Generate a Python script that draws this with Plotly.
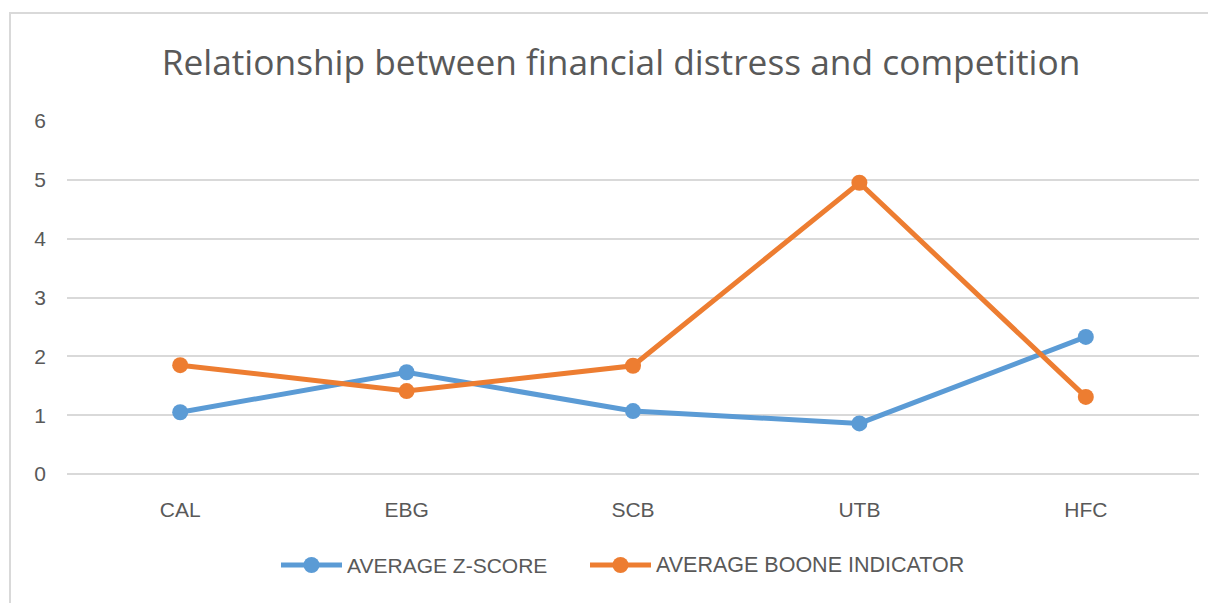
import plotly.graph_objects as go

categories = ["CAL", "EBG", "SCB", "UTB", "HFC"]
z_score = [1.05, 1.73, 1.07, 0.86, 2.33]
boone = [1.85, 1.41, 1.84, 4.95, 1.31]
y_ticks = [0, 1, 2, 3, 4, 5, 6]

title_text = "Relationship between financial distress and competition"
name_z = "AVERAGE Z-SCORE"
name_b = "AVERAGE BOONE INDICATOR"
color_z = "#5B9BD5"
color_b = "#ED7D31"

OFF = 8  # default body margin of the page
W, H = 1216 - OFF, 603 - OFF
L, T = 67 - OFF, 121 - OFF
pw, ph = 1132, 353
R = W - L - pw
B = H - T - ph


def px_x(page_x):
    return (page_x - OFF - L) / pw


def px_y(page_y):
    return (T + ph - (page_y - OFF)) / ph


fig = go.Figure()
for name, vals, col in [(name_z, z_score, color_z), (name_b, boone, color_b)]:
    fig.add_trace(go.Scatter(x=categories, y=vals, name=name, mode="lines+markers",
                             line=dict(color=col, width=5),
                             marker=dict(color=col, size=16),
                             showlegend=False))

# chart-area border (cropped at right and bottom in the reference)
fig.add_shape(type="rect", xref="paper", yref="paper",
              x0=px_x(10), x1=px_x(1240), y0=px_y(640), y1=px_y(13),
              line=dict(color="#D9D9D9", width=2), fillcolor="rgba(0,0,0,0)", layer="below")

# legend drawn as shapes + text (Excel style long symbol)
legend_items = [(name_z, color_z, 281, 21), (name_b, color_b, 590, 21.5)]
ly = px_y(565)
for name, col, x_start, fs in legend_items:
    fig.add_shape(type="line", xref="paper", yref="paper",
                  x0=px_x(x_start), x1=px_x(x_start + 61), y0=ly, y1=ly,
                  line=dict(color=col, width=5))
    cx = x_start + 30.5
    fig.add_shape(type="circle", xref="paper", yref="paper",
                  x0=px_x(cx - 8), x1=px_x(cx + 8), y0=px_y(565 + 8), y1=px_y(565 - 8),
                  line=dict(color=col, width=0), fillcolor=col)
    fig.add_annotation(text=name, xref="paper", yref="paper", x=px_x(x_start + 64), y=ly,
                       xanchor="left", yanchor="middle", showarrow=False,
                       font=dict(family="Liberation Sans, Arial", size=fs, color="#595959"))

fig.update_layout(
    width=W, height=H,
    margin=dict(l=L, r=R, t=T, b=B, autoexpand=False),
    paper_bgcolor="white", plot_bgcolor="white",
    title=dict(text=title_text, x=px_x(621), xanchor="center", xref="paper",
               y=1 - (63 - OFF) / H, yanchor="middle", yref="container",
               font=dict(family="Open Sans, Liberation Sans", size=35.3, color="#595959")),
    font=dict(family="Liberation Sans, Arial", color="#595959"),
    showlegend=False,
    xaxis=dict(showgrid=False, showline=False, zeroline=False, ticks="",
               tickfont=dict(size=21, color="#595959"), ticklabelstandoff=21,
               range=[-0.5, 4.5]),
    yaxis=dict(range=[0, 6], tickvals=y_ticks, showgrid=True, gridcolor="#D9D9D9",
               gridwidth=1.5, zeroline=True, zerolinecolor="#D9D9D9", zerolinewidth=1.5,
               showline=False, ticks="", tickfont=dict(size=21, color="#595959"),
               ticklabelstandoff=20),
)

fig.write_html("out.html")
